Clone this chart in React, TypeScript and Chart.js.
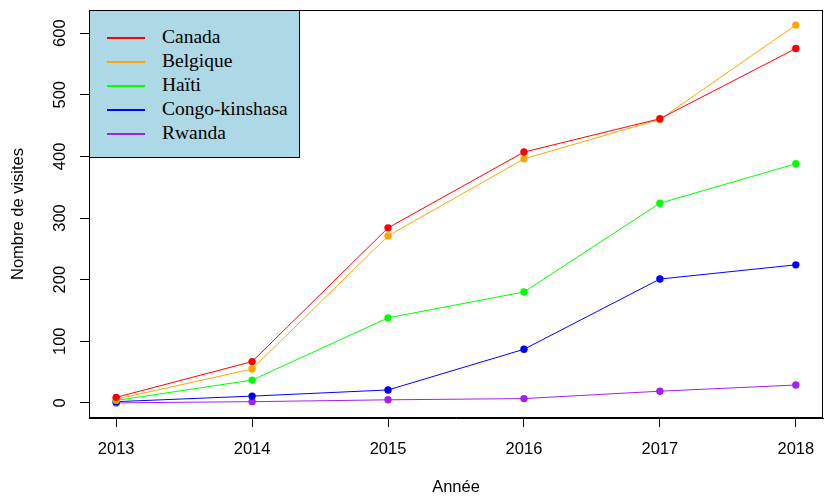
import { useEffect, useRef } from "react";
import { Chart, registerables } from "chart.js";

Chart.register(...registerables);

const years = [2013, 2014, 2015, 2016, 2017, 2018];
const canada = [9, 67, 284, 407, 461, 575];
const belgique = [6, 55, 271, 396, 460, 613];
const haiti = [4, 37, 138, 180, 324, 388];
const congo = [2, 11, 21, 87, 201, 224];
const rwanda = [0, 2, 5, 7, 19, 29];
const yTickValues = [0, 100, 200, 300, 400, 500, 600];

const seriesNames = ["Canada", "Belgique", "Haïti", "Congo-kinshasa", "Rwanda"];
const seriesColors = ["#FF0000", "#FFA500", "#00FF00", "#0000FF", "#A020F0"];
const seriesValues = [canada, belgique, haiti, congo, rwanda];

const AXIS_FONT = "'Liberation Sans', Arial, sans-serif";
const LEGEND_FONT = "'Liberation Serif', 'Times New Roman', serif";
const TICK_SIZE = 16.5;
const TITLE_SIZE = 16.5;

const boxPlugin = {
  id: "boxPlugin",
  afterDraw(chart: any) {
    const { ctx, chartArea } = chart;
    ctx.save();
    ctx.strokeStyle = "#000";
    ctx.lineWidth = 1;
    ctx.strokeRect(
      Math.round(chartArea.left) + 0.5,
      Math.round(chartArea.top) + 0.5,
      Math.round(chartArea.right - chartArea.left) - 1,
      Math.round(chartArea.bottom - chartArea.top) - 1
    );
    // rotated y tick labels (R style, reading bottom to top)
    const yScale = chart.scales.y;
    ctx.fillStyle = "#000";
    ctx.font = `${TICK_SIZE}px ${AXIS_FONT}`;
    ctx.textAlign = "center";
    ctx.textBaseline = "alphabetic";
    const baseX = chartArea.left - 24.5;
    yTickValues.forEach((v) => {
      const py = yScale.getPixelForValue(v);
      ctx.save();
      ctx.translate(baseX, py);
      ctx.rotate(-Math.PI / 2);
      ctx.fillText(String(v), 0, 0);
      ctx.restore();
    });
    ctx.restore();
  },
};

export default function App() {
  const canvasRef = useRef<HTMLCanvasElement>(null);

  useEffect(() => {
    const canvas = canvasRef.current;
    if (!canvas) return;
    const chart = new Chart(canvas, {
      type: "line",
      data: {
        datasets: seriesNames.map((name, i) => ({
          label: name,
          data: years.map((y, j) => ({ x: y, y: seriesValues[i][j] })),
          borderColor: seriesColors[i],
          backgroundColor: seriesColors[i],
          pointBackgroundColor: seriesColors[i],
          pointBorderColor: seriesColors[i],
          pointBorderWidth: 0,
          pointRadius: 3.7,
          borderWidth: 1,
          tension: 0,
          fill: false,
        })),
      },
      options: {
        animation: false,
        responsive: false,
        devicePixelRatio: 1,
        layout: { padding: { top: 10, right: 3, left: 0, bottom: 0 } },
        plugins: {
          legend: { display: false },
          tooltip: { enabled: false },
        },
        scales: {
          x: {
            type: "linear",
            min: 2012.8,
            max: 2018.2,
            afterBuildTicks: (s: any) => {
              s.ticks = years.map((v) => ({ value: v }));
            },
            afterFit: (s: any) => {
              s.height = 80;
              s.paddingLeft = 0;
              s.paddingRight = 0;
            },
            ticks: {
              font: { family: AXIS_FONT, size: TICK_SIZE },
              color: "#000",
              padding: 13,
              maxRotation: 0,
              minRotation: 0,
              callback: (v: any) => String(v),
            },
            grid: {
              drawOnChartArea: false,
              drawTicks: true,
              tickLength: 9,
              color: "#000",
            },
            border: { display: true, color: "#000" },
            title: {
              display: true,
              text: "Année",
              font: { family: AXIS_FONT, size: TITLE_SIZE },
              color: "#000",
              padding: { top: 0, bottom: 1 },
            },
          },
          y: {
            type: "linear",
            min: -24.5,
            max: 637.5,
            afterBuildTicks: (s: any) => {
              s.ticks = yTickValues.map((v) => ({ value: v }));
            },
            afterFit: (s: any) => {
              s.width = 89;
              s.paddingTop = 0;
              s.paddingBottom = 0;
            },
            ticks: {
              display: false,
            },
            grid: {
              drawOnChartArea: false,
              drawTicks: true,
              tickLength: 9,
              color: "#000",
            },
            border: { display: true, color: "#000" },
            title: {
              display: true,
              text: "Nombre de visites",
              font: { family: AXIS_FONT, size: TITLE_SIZE },
              color: "#000",
              padding: { top: 9, bottom: 0 },
            },
          },
        },
      } as any,
      plugins: [boxPlugin],
    });
    return () => chart.destroy();
  }, []);

  return (
    <div style={{ position: "fixed", left: 0, top: 0, width: 827, height: 498, background: "#fff" }}>
      <canvas ref={canvasRef} width={827} height={498} style={{ display: "block" }} />
      <div
        style={{
          position: "absolute",
          left: 89,
          top: 10,
          width: 211,
          height: 148,
          boxSizing: "border-box",
          background: "#ADD8E6",
          border: "1px solid #000",
        }}
      >
        {seriesNames.map((name, i) => (
          <div
            key={name}
            style={{
              position: "absolute",
              left: 0,
              top: 15 + i * 24,
              height: 24,
              width: "100%",
            }}
          >
            <div
              style={{
                position: "absolute",
                left: 17,
                top: 11,
                width: 38,
                height: 1.5,
                background: seriesColors[i],
              }}
            />
            <span
              style={{
                position: "absolute",
                left: 72,
                top: -1,
                lineHeight: "24px",
                fontFamily: LEGEND_FONT,
                fontSize: 19.5,
                color: "#000",
                whiteSpace: "nowrap",
              }}
            >
              {name}
            </span>
          </div>
        ))}
      </div>
    </div>
  );
}
